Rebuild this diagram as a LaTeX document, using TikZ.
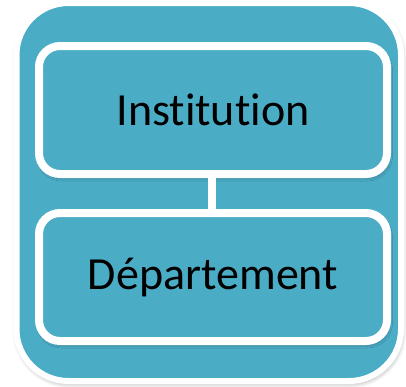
\documentclass[tikz,border=0pt]{standalone}
\usepackage{fontspec}
\setmainfont{Carlito}[RawFeature={-liga;-calt;-dlig;-clig}]
\usetikzlibrary{shadows.blur}
\definecolor{teal5}{HTML}{4BACC6}
\begin{document}
\begin{tikzpicture}[x=1pt,y=-1pt,
  outerbox/.style={draw=white, line width=6pt, fill=teal5, rounded corners=52pt,
    blur shadow={shadow xshift=1pt, shadow yshift=-2.5pt, shadow blur radius=5pt, shadow opacity=40}},
  levelbox/.style={draw=white, line width=8pt, fill=teal5, rounded corners=21pt,
    minimum width=348pt, minimum height=128pt, inner sep=0pt, outer sep=0pt,
    font=\fontsize{46}{50}\selectfont, text=black,
    blur shadow={shadow xshift=1.5pt, shadow yshift=-3pt, shadow blur radius=4pt, shadow opacity=45}},
  link/.style={draw=white, line width=8pt}]
\useasboundingbox (0,0) rectangle (406,386);
\path[outerbox] (16.5,3) rectangle (401,381);
\node[levelbox] (inst) at (213,110) {Institution};
\node[levelbox] (dept) at (213,277) {Département};
\draw[link] ([xshift=-1.5pt]inst.south) -- ([xshift=-1.5pt]dept.north);
\end{tikzpicture}
\end{document}
